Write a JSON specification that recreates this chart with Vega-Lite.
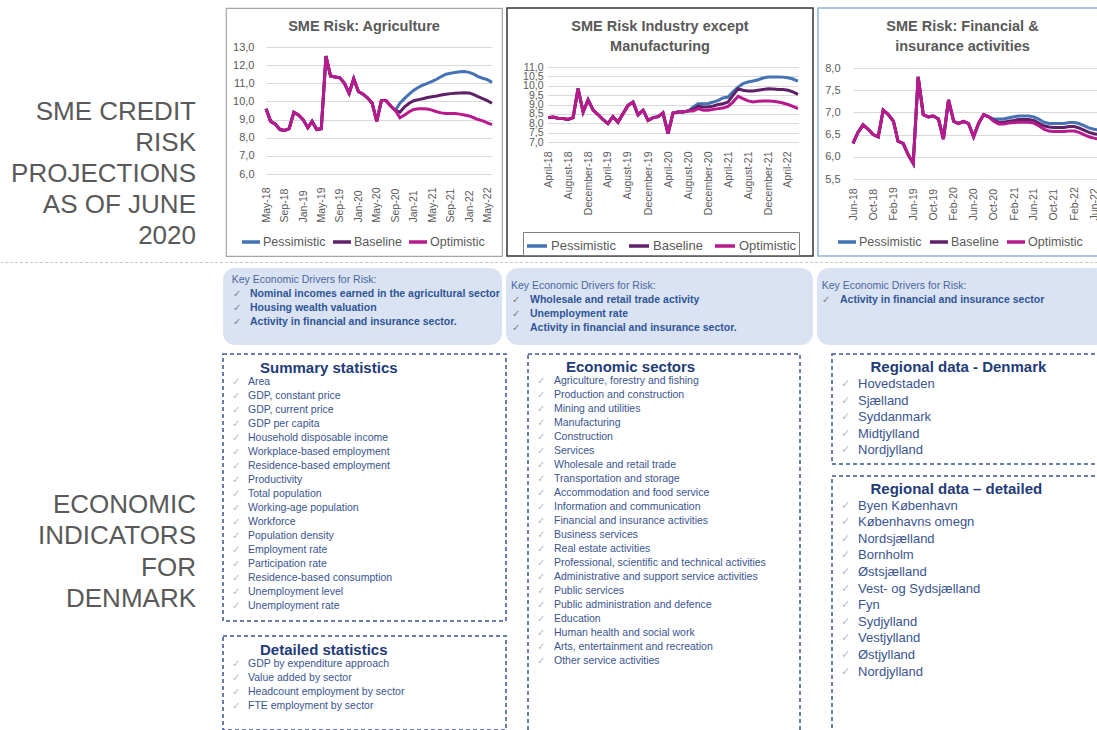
{
"$schema": "https://vega.github.io/schema/vega-lite/v6.json",
"padding": {"top": 7, "left": 0, "right": 0, "bottom": 0},
"background": "white",
"spacing": 0,
"vconcat": [
{
"spacing": 29,
"hconcat": [
{"width": 195, "height": 112,
 "data": {"values": [{"t": "SME CREDIT\nRISK\nPROJECTIONS\nAS OF JUNE\n2020"}]},
 "mark": {"type": "text", "align": "right", "baseline": "alphabetic", "fontSize": 26, "lineHeight": 31, "color": "#595959", "lineBreak": "\n"},
 "encoding": {"text": {"field": "t"}, "x": {"value": "width"}, "y": {"value": "height"}}},
{
"spacing": 3,
"resolve": {"scale": {"color": "independent"}, "legend": {"color": "independent"}},
"hconcat": [
{"width": 276, "height": 248,
 "view": {"stroke": "#a6a6a6", "strokeWidth": 1.2},
 "layer": [
 {"data": {"format": {"parse": {"d": "date:'%Y-%m'"}}, "values": [
{"d":"2018-05","s":"Pessimistic","v":9.6},{"d":"2018-05","s":"Baseline","v":9.6},{"d":"2018-05","s":"Optimistic","v":9.6},
{"d":"2018-06","s":"Pessimistic","v":8.9},{"d":"2018-06","s":"Baseline","v":8.9},{"d":"2018-06","s":"Optimistic","v":8.9},
{"d":"2018-07","s":"Pessimistic","v":8.75},{"d":"2018-07","s":"Baseline","v":8.75},{"d":"2018-07","s":"Optimistic","v":8.75},
{"d":"2018-08","s":"Pessimistic","v":8.45},{"d":"2018-08","s":"Baseline","v":8.45},{"d":"2018-08","s":"Optimistic","v":8.45},
{"d":"2018-09","s":"Pessimistic","v":8.4},{"d":"2018-09","s":"Baseline","v":8.4},{"d":"2018-09","s":"Optimistic","v":8.4},
{"d":"2018-10","s":"Pessimistic","v":8.5},{"d":"2018-10","s":"Baseline","v":8.5},{"d":"2018-10","s":"Optimistic","v":8.5},
{"d":"2018-11","s":"Pessimistic","v":9.4},{"d":"2018-11","s":"Baseline","v":9.4},{"d":"2018-11","s":"Optimistic","v":9.4},
{"d":"2018-12","s":"Pessimistic","v":9.25},{"d":"2018-12","s":"Baseline","v":9.25},{"d":"2018-12","s":"Optimistic","v":9.25},
{"d":"2019-01","s":"Pessimistic","v":9.0},{"d":"2019-01","s":"Baseline","v":9.0},{"d":"2019-01","s":"Optimistic","v":9.0},
{"d":"2019-02","s":"Pessimistic","v":8.55},{"d":"2019-02","s":"Baseline","v":8.55},{"d":"2019-02","s":"Optimistic","v":8.55},
{"d":"2019-03","s":"Pessimistic","v":8.9},{"d":"2019-03","s":"Baseline","v":8.9},{"d":"2019-03","s":"Optimistic","v":8.9},
{"d":"2019-04","s":"Pessimistic","v":8.45},{"d":"2019-04","s":"Baseline","v":8.45},{"d":"2019-04","s":"Optimistic","v":8.45},
{"d":"2019-05","s":"Pessimistic","v":8.5},{"d":"2019-05","s":"Baseline","v":8.5},{"d":"2019-05","s":"Optimistic","v":8.5},
{"d":"2019-06","s":"Pessimistic","v":12.5},{"d":"2019-06","s":"Baseline","v":12.5},{"d":"2019-06","s":"Optimistic","v":12.5},
{"d":"2019-07","s":"Pessimistic","v":11.4},{"d":"2019-07","s":"Baseline","v":11.4},{"d":"2019-07","s":"Optimistic","v":11.4},
{"d":"2019-08","s":"Pessimistic","v":11.35},{"d":"2019-08","s":"Baseline","v":11.35},{"d":"2019-08","s":"Optimistic","v":11.35},
{"d":"2019-09","s":"Pessimistic","v":11.3},{"d":"2019-09","s":"Baseline","v":11.3},{"d":"2019-09","s":"Optimistic","v":11.3},
{"d":"2019-10","s":"Pessimistic","v":11.0},{"d":"2019-10","s":"Baseline","v":11.0},{"d":"2019-10","s":"Optimistic","v":11.0},
{"d":"2019-11","s":"Pessimistic","v":10.45},{"d":"2019-11","s":"Baseline","v":10.45},{"d":"2019-11","s":"Optimistic","v":10.45},
{"d":"2019-12","s":"Pessimistic","v":11.25},{"d":"2019-12","s":"Baseline","v":11.25},{"d":"2019-12","s":"Optimistic","v":11.25},
{"d":"2020-01","s":"Pessimistic","v":10.55},{"d":"2020-01","s":"Baseline","v":10.55},{"d":"2020-01","s":"Optimistic","v":10.55},
{"d":"2020-02","s":"Pessimistic","v":10.4},{"d":"2020-02","s":"Baseline","v":10.4},{"d":"2020-02","s":"Optimistic","v":10.4},
{"d":"2020-03","s":"Pessimistic","v":10.2},{"d":"2020-03","s":"Baseline","v":10.2},{"d":"2020-03","s":"Optimistic","v":10.2},
{"d":"2020-04","s":"Pessimistic","v":9.9},{"d":"2020-04","s":"Baseline","v":9.9},{"d":"2020-04","s":"Optimistic","v":9.9},
{"d":"2020-05","s":"Pessimistic","v":8.9},{"d":"2020-05","s":"Baseline","v":8.9},{"d":"2020-05","s":"Optimistic","v":8.9},
{"d":"2020-06","s":"Pessimistic","v":10.05},{"d":"2020-06","s":"Baseline","v":10.05},{"d":"2020-06","s":"Optimistic","v":10.05},
{"d":"2020-07","s":"Pessimistic","v":10.05},{"d":"2020-07","s":"Baseline","v":10.05},{"d":"2020-07","s":"Optimistic","v":10.05},
{"d":"2020-08","s":"Pessimistic","v":9.75},{"d":"2020-08","s":"Baseline","v":9.75},{"d":"2020-08","s":"Optimistic","v":9.75},
{"d":"2020-09","s":"Pessimistic","v":9.5},{"d":"2020-09","s":"Baseline","v":9.5},{"d":"2020-09","s":"Optimistic","v":9.5},
{"d":"2020-10","s":"Pessimistic","v":9.9},{"d":"2020-10","s":"Baseline","v":9.4},{"d":"2020-10","s":"Optimistic","v":9.1},
{"d":"2020-11","s":"Pessimistic","v":10.17},{"d":"2020-11","s":"Baseline","v":9.7},{"d":"2020-11","s":"Optimistic","v":9.25},
{"d":"2020-12","s":"Pessimistic","v":10.4},{"d":"2020-12","s":"Baseline","v":9.9},{"d":"2020-12","s":"Optimistic","v":9.43},
{"d":"2021-01","s":"Pessimistic","v":10.62},{"d":"2021-01","s":"Baseline","v":10.04},{"d":"2021-01","s":"Optimistic","v":9.56},
{"d":"2021-02","s":"Pessimistic","v":10.78},{"d":"2021-02","s":"Baseline","v":10.1},{"d":"2021-02","s":"Optimistic","v":9.6},
{"d":"2021-03","s":"Pessimistic","v":10.9},{"d":"2021-03","s":"Baseline","v":10.15},{"d":"2021-03","s":"Optimistic","v":9.6},
{"d":"2021-04","s":"Pessimistic","v":11.0},{"d":"2021-04","s":"Baseline","v":10.22},{"d":"2021-04","s":"Optimistic","v":9.58},
{"d":"2021-05","s":"Pessimistic","v":11.1},{"d":"2021-05","s":"Baseline","v":10.26},{"d":"2021-05","s":"Optimistic","v":9.52},
{"d":"2021-06","s":"Pessimistic","v":11.22},{"d":"2021-06","s":"Baseline","v":10.3},{"d":"2021-06","s":"Optimistic","v":9.43},
{"d":"2021-07","s":"Pessimistic","v":11.37},{"d":"2021-07","s":"Baseline","v":10.35},{"d":"2021-07","s":"Optimistic","v":9.37},
{"d":"2021-08","s":"Pessimistic","v":11.5},{"d":"2021-08","s":"Baseline","v":10.4},{"d":"2021-08","s":"Optimistic","v":9.33},
{"d":"2021-09","s":"Pessimistic","v":11.55},{"d":"2021-09","s":"Baseline","v":10.43},{"d":"2021-09","s":"Optimistic","v":9.33},
{"d":"2021-10","s":"Pessimistic","v":11.6},{"d":"2021-10","s":"Baseline","v":10.45},{"d":"2021-10","s":"Optimistic","v":9.33},
{"d":"2021-11","s":"Pessimistic","v":11.63},{"d":"2021-11","s":"Baseline","v":10.47},{"d":"2021-11","s":"Optimistic","v":9.3},
{"d":"2021-12","s":"Pessimistic","v":11.65},{"d":"2021-12","s":"Baseline","v":10.48},{"d":"2021-12","s":"Optimistic","v":9.25},
{"d":"2022-01","s":"Pessimistic","v":11.6},{"d":"2022-01","s":"Baseline","v":10.47},{"d":"2022-01","s":"Optimistic","v":9.2},
{"d":"2022-02","s":"Pessimistic","v":11.5},{"d":"2022-02","s":"Baseline","v":10.37},{"d":"2022-02","s":"Optimistic","v":9.1},
{"d":"2022-03","s":"Pessimistic","v":11.37},{"d":"2022-03","s":"Baseline","v":10.26},{"d":"2022-03","s":"Optimistic","v":9.0},
{"d":"2022-04","s":"Pessimistic","v":11.28},{"d":"2022-04","s":"Baseline","v":10.15},{"d":"2022-04","s":"Optimistic","v":8.93},
{"d":"2022-05","s":"Pessimistic","v":11.2},{"d":"2022-05","s":"Baseline","v":10.04},{"d":"2022-05","s":"Optimistic","v":8.82},
{"d":"2022-06","s":"Pessimistic","v":11.05},{"d":"2022-06","s":"Baseline","v":9.9},{"d":"2022-06","s":"Optimistic","v":8.72}
 ]},
 "mark": {"type": "line", "strokeWidth": 3},
 "encoding": {
  "x": {"field": "d", "type": "temporal",
        "scale": {"range": [40, 266], "nice": false},
        "axis": {"title": null, "values": [{"year":2018,"month":5},{"year":2018,"month":9},{"year":2019,"month":1},{"year":2019,"month":5},{"year":2019,"month":9},{"year":2020,"month":1},{"year":2020,"month":5},{"year":2020,"month":9},{"year":2021,"month":1},{"year":2021,"month":5},{"year":2021,"month":9},{"year":2022,"month":1},{"year":2022,"month":5}],
                 "format": "%b-%y", "labelAngle": 270, "labelAlign": "left", "labelBaseline": "middle", "labelPadding": 48, "offset": -82, "grid": false, "labelFontSize": 10.5}},
  "y": {"field": "v", "type": "quantitative",
        "scale": {"domain": [6, 13], "range": [166, 39], "nice": false, "zero": false},
        "axis": {"title": null, "values": [6,7,8,9,10,11,12,13], "format": ".1f", "offset": -32, "labelPadding": 4, "grid": true, "labelFontSize": 11}},
  "color": {"field": "s", "type": "nominal",
        "scale": {"domain": ["Pessimistic", "Baseline", "Optimistic"], "range": ["#4472b4", "#5e2166", "#b8198c"]},
        "legend": {"title": null, "orient": "none", "legendX": 14, "legendY": 223, "direction": "horizontal", "columnPadding": 0, "labelOffset": 1, "symbolSize": 324, "labelFontSize": 12.5}}
 }},
 {"data": {"values": [{"t": "SME Risk: Agriculture"}]},
  "mark": {"type": "text", "fontSize": 14.5, "fontWeight": "bold", "color": "#595959", "baseline": "middle", "lineBreak": "\n", "lineHeight": 20},
  "encoding": {"text": {"field": "t"}, "y": {"datum": 14.1, "type": "quantitative", "axis": {"title": null, "values": [6,7,8,9,10,11,12,13], "format": ".1f", "offset": -32, "labelPadding": 4, "grid": true, "labelFontSize": 11}}}}
 ]},
{"width": 306, "height": 248,
 "view": {"stroke": "#333333", "strokeWidth": 1.5},
 "layer": [
 {"data": {"format": {"parse": {"d": "date:'%Y-%m'"}}, "values": [
{"d":"2018-04","s":"Pessimistic","v":8.3},{"d":"2018-04","s":"Baseline","v":8.3},{"d":"2018-04","s":"Optimistic","v":8.3},
{"d":"2018-05","s":"Pessimistic","v":8.33},{"d":"2018-05","s":"Baseline","v":8.33},{"d":"2018-05","s":"Optimistic","v":8.33},
{"d":"2018-06","s":"Pessimistic","v":8.27},{"d":"2018-06","s":"Baseline","v":8.27},{"d":"2018-06","s":"Optimistic","v":8.27},
{"d":"2018-07","s":"Pessimistic","v":8.25},{"d":"2018-07","s":"Baseline","v":8.25},{"d":"2018-07","s":"Optimistic","v":8.25},
{"d":"2018-08","s":"Pessimistic","v":8.2},{"d":"2018-08","s":"Baseline","v":8.2},{"d":"2018-08","s":"Optimistic","v":8.2},
{"d":"2018-09","s":"Pessimistic","v":8.3},{"d":"2018-09","s":"Baseline","v":8.3},{"d":"2018-09","s":"Optimistic","v":8.3},
{"d":"2018-10","s":"Pessimistic","v":9.85},{"d":"2018-10","s":"Baseline","v":9.85},{"d":"2018-10","s":"Optimistic","v":9.85},
{"d":"2018-11","s":"Pessimistic","v":8.6},{"d":"2018-11","s":"Baseline","v":8.6},{"d":"2018-11","s":"Optimistic","v":8.6},
{"d":"2018-12","s":"Pessimistic","v":9.25},{"d":"2018-12","s":"Baseline","v":9.25},{"d":"2018-12","s":"Optimistic","v":9.25},
{"d":"2019-01","s":"Pessimistic","v":8.7},{"d":"2019-01","s":"Baseline","v":8.7},{"d":"2019-01","s":"Optimistic","v":8.7},
{"d":"2019-02","s":"Pessimistic","v":8.45},{"d":"2019-02","s":"Baseline","v":8.45},{"d":"2019-02","s":"Optimistic","v":8.45},
{"d":"2019-03","s":"Pessimistic","v":8.2},{"d":"2019-03","s":"Baseline","v":8.2},{"d":"2019-03","s":"Optimistic","v":8.2},
{"d":"2019-04","s":"Pessimistic","v":7.98},{"d":"2019-04","s":"Baseline","v":7.98},{"d":"2019-04","s":"Optimistic","v":7.98},
{"d":"2019-05","s":"Pessimistic","v":8.35},{"d":"2019-05","s":"Baseline","v":8.35},{"d":"2019-05","s":"Optimistic","v":8.35},
{"d":"2019-06","s":"Pessimistic","v":8.05},{"d":"2019-06","s":"Baseline","v":8.05},{"d":"2019-06","s":"Optimistic","v":8.05},
{"d":"2019-07","s":"Pessimistic","v":8.5},{"d":"2019-07","s":"Baseline","v":8.5},{"d":"2019-07","s":"Optimistic","v":8.5},
{"d":"2019-08","s":"Pessimistic","v":8.95},{"d":"2019-08","s":"Baseline","v":8.95},{"d":"2019-08","s":"Optimistic","v":8.95},
{"d":"2019-09","s":"Pessimistic","v":9.13},{"d":"2019-09","s":"Baseline","v":9.13},{"d":"2019-09","s":"Optimistic","v":9.13},
{"d":"2019-10","s":"Pessimistic","v":8.45},{"d":"2019-10","s":"Baseline","v":8.45},{"d":"2019-10","s":"Optimistic","v":8.45},
{"d":"2019-11","s":"Pessimistic","v":8.7},{"d":"2019-11","s":"Baseline","v":8.7},{"d":"2019-11","s":"Optimistic","v":8.7},
{"d":"2019-12","s":"Pessimistic","v":8.15},{"d":"2019-12","s":"Baseline","v":8.15},{"d":"2019-12","s":"Optimistic","v":8.15},
{"d":"2020-01","s":"Pessimistic","v":8.3},{"d":"2020-01","s":"Baseline","v":8.3},{"d":"2020-01","s":"Optimistic","v":8.3},
{"d":"2020-02","s":"Pessimistic","v":8.35},{"d":"2020-02","s":"Baseline","v":8.35},{"d":"2020-02","s":"Optimistic","v":8.35},
{"d":"2020-03","s":"Pessimistic","v":8.55},{"d":"2020-03","s":"Baseline","v":8.55},{"d":"2020-03","s":"Optimistic","v":8.55},
{"d":"2020-04","s":"Pessimistic","v":7.45},{"d":"2020-04","s":"Baseline","v":7.45},{"d":"2020-04","s":"Optimistic","v":7.45},
{"d":"2020-05","s":"Pessimistic","v":8.55},{"d":"2020-05","s":"Baseline","v":8.55},{"d":"2020-05","s":"Optimistic","v":8.55},
{"d":"2020-06","s":"Pessimistic","v":8.6},{"d":"2020-06","s":"Baseline","v":8.6},{"d":"2020-06","s":"Optimistic","v":8.6},
{"d":"2020-07","s":"Pessimistic","v":8.6},{"d":"2020-07","s":"Baseline","v":8.6},{"d":"2020-07","s":"Optimistic","v":8.6},
{"d":"2020-08","s":"Pessimistic","v":8.65},{"d":"2020-08","s":"Baseline","v":8.65},{"d":"2020-08","s":"Optimistic","v":8.65},
{"d":"2020-09","s":"Pessimistic","v":8.87},{"d":"2020-09","s":"Baseline","v":8.75},{"d":"2020-09","s":"Optimistic","v":8.65},
{"d":"2020-10","s":"Pessimistic","v":9.04},{"d":"2020-10","s":"Baseline","v":8.9},{"d":"2020-10","s":"Optimistic","v":8.78},
{"d":"2020-11","s":"Pessimistic","v":9.04},{"d":"2020-11","s":"Baseline","v":8.87},{"d":"2020-11","s":"Optimistic","v":8.7},
{"d":"2020-12","s":"Pessimistic","v":9.05},{"d":"2020-12","s":"Baseline","v":8.87},{"d":"2020-12","s":"Optimistic","v":8.7},
{"d":"2021-01","s":"Pessimistic","v":9.13},{"d":"2021-01","s":"Baseline","v":8.92},{"d":"2021-01","s":"Optimistic","v":8.74},
{"d":"2021-02","s":"Pessimistic","v":9.22},{"d":"2021-02","s":"Baseline","v":9.0},{"d":"2021-02","s":"Optimistic","v":8.78},
{"d":"2021-03","s":"Pessimistic","v":9.35},{"d":"2021-03","s":"Baseline","v":9.04},{"d":"2021-03","s":"Optimistic","v":8.81},
{"d":"2021-04","s":"Pessimistic","v":9.4},{"d":"2021-04","s":"Baseline","v":9.13},{"d":"2021-04","s":"Optimistic","v":8.9},
{"d":"2021-05","s":"Pessimistic","v":9.67},{"d":"2021-05","s":"Baseline","v":9.49},{"d":"2021-05","s":"Optimistic","v":9.13},
{"d":"2021-06","s":"Pessimistic","v":9.93},{"d":"2021-06","s":"Baseline","v":9.84},{"d":"2021-06","s":"Optimistic","v":9.44},
{"d":"2021-07","s":"Pessimistic","v":10.11},{"d":"2021-07","s":"Baseline","v":9.76},{"d":"2021-07","s":"Optimistic","v":9.31},
{"d":"2021-08","s":"Pessimistic","v":10.2},{"d":"2021-08","s":"Baseline","v":9.72},{"d":"2021-08","s":"Optimistic","v":9.19},
{"d":"2021-09","s":"Pessimistic","v":10.25},{"d":"2021-09","s":"Baseline","v":9.72},{"d":"2021-09","s":"Optimistic","v":9.13},
{"d":"2021-10","s":"Pessimistic","v":10.32},{"d":"2021-10","s":"Baseline","v":9.76},{"d":"2021-10","s":"Optimistic","v":9.17},
{"d":"2021-11","s":"Pessimistic","v":10.41},{"d":"2021-11","s":"Baseline","v":9.8},{"d":"2021-11","s":"Optimistic","v":9.19},
{"d":"2021-12","s":"Pessimistic","v":10.47},{"d":"2021-12","s":"Baseline","v":9.84},{"d":"2021-12","s":"Optimistic","v":9.19},
{"d":"2022-01","s":"Pessimistic","v":10.47},{"d":"2022-01","s":"Baseline","v":9.83},{"d":"2022-01","s":"Optimistic","v":9.17},
{"d":"2022-02","s":"Pessimistic","v":10.47},{"d":"2022-02","s":"Baseline","v":9.8},{"d":"2022-02","s":"Optimistic","v":9.13},
{"d":"2022-03","s":"Pessimistic","v":10.46},{"d":"2022-03","s":"Baseline","v":9.8},{"d":"2022-03","s":"Optimistic","v":9.08},
{"d":"2022-04","s":"Pessimistic","v":10.43},{"d":"2022-04","s":"Baseline","v":9.76},{"d":"2022-04","s":"Optimistic","v":9.0},
{"d":"2022-05","s":"Pessimistic","v":10.36},{"d":"2022-05","s":"Baseline","v":9.67},{"d":"2022-05","s":"Optimistic","v":8.9},
{"d":"2022-06","s":"Pessimistic","v":10.25},{"d":"2022-06","s":"Baseline","v":9.54},{"d":"2022-06","s":"Optimistic","v":8.78}
 ]},
 "mark": {"type": "line", "strokeWidth": 3},
 "encoding": {
  "x": {"field": "d", "type": "temporal",
        "scale": {"range": [41, 291], "nice": false},
        "axis": {"title": null, "values": [{"year":2018,"month":4},{"year":2018,"month":8},{"year":2018,"month":12},{"year":2019,"month":4},{"year":2019,"month":8},{"year":2019,"month":12},{"year":2020,"month":4},{"year":2020,"month":8},{"year":2020,"month":12},{"year":2021,"month":4},{"year":2021,"month":8},{"year":2021,"month":12},{"year":2022,"month":4}],
                 "format": "%B-%y", "labelAngle": 270, "labelAlign": "right", "labelBaseline": "middle", "labelPadding": 9, "offset": -114, "grid": false, "labelFontSize": 10.5}},
  "y": {"field": "v", "type": "quantitative",
        "scale": {"domain": [7, 11], "range": [134, 59], "nice": false, "zero": false},
        "axis": {"title": null, "values": [7,7.5,8,8.5,9,9.5,10,10.5,11], "format": ".1f", "offset": -40, "labelPadding": 4, "grid": true, "labelFontSize": 10.5}},
  "color": {"field": "s", "type": "nominal",
        "scale": {"domain": ["Pessimistic", "Baseline", "Optimistic"], "range": ["#4472b4", "#5e2166", "#b8198c"]},
        "legend": {"title": null, "orient": "none", "legendX": 16, "legendY": 224, "direction": "horizontal", "strokeColor": "#7f7f7f", "padding": 2, "columnPadding": 5, "labelOffset": 2, "symbolSize": 400}}
 }},
 {"data": {"values": [{"t": "SME Risk Industry except\nManufacturing"}]},
  "mark": {"type": "text", "fontSize": 14.5, "fontWeight": "bold", "color": "#595959", "baseline": "middle", "lineBreak": "\n", "lineHeight": 20},
  "encoding": {"text": {"field": "t"}, "y": {"datum": 13.133, "type": "quantitative", "axis": {"title": null, "values": [7,7.5,8,8.5,9,9.5,10,10.5,11], "format": ".1f", "offset": -40, "labelPadding": 4, "grid": true, "labelFontSize": 10.5}}}}
 ]},
{"width": 289, "height": 248,
 "view": {"stroke": "#8fb6de", "strokeWidth": 1.5},
 "layer": [
 {"data": {"format": {"parse": {"d": "date:'%Y-%m'"}}, "values": [
{"d":"2018-06","s":"Pessimistic","v":6.3},{"d":"2018-06","s":"Baseline","v":6.3},{"d":"2018-06","s":"Optimistic","v":6.3},
{"d":"2018-07","s":"Pessimistic","v":6.55},{"d":"2018-07","s":"Baseline","v":6.55},{"d":"2018-07","s":"Optimistic","v":6.55},
{"d":"2018-08","s":"Pessimistic","v":6.72},{"d":"2018-08","s":"Baseline","v":6.72},{"d":"2018-08","s":"Optimistic","v":6.72},
{"d":"2018-09","s":"Pessimistic","v":6.62},{"d":"2018-09","s":"Baseline","v":6.62},{"d":"2018-09","s":"Optimistic","v":6.62},
{"d":"2018-10","s":"Pessimistic","v":6.5},{"d":"2018-10","s":"Baseline","v":6.5},{"d":"2018-10","s":"Optimistic","v":6.5},
{"d":"2018-11","s":"Pessimistic","v":6.45},{"d":"2018-11","s":"Baseline","v":6.45},{"d":"2018-11","s":"Optimistic","v":6.45},
{"d":"2018-12","s":"Pessimistic","v":7.05},{"d":"2018-12","s":"Baseline","v":7.05},{"d":"2018-12","s":"Optimistic","v":7.05},
{"d":"2019-01","s":"Pessimistic","v":6.95},{"d":"2019-01","s":"Baseline","v":6.95},{"d":"2019-01","s":"Optimistic","v":6.95},
{"d":"2019-02","s":"Pessimistic","v":6.8},{"d":"2019-02","s":"Baseline","v":6.8},{"d":"2019-02","s":"Optimistic","v":6.8},
{"d":"2019-03","s":"Pessimistic","v":6.35},{"d":"2019-03","s":"Baseline","v":6.35},{"d":"2019-03","s":"Optimistic","v":6.35},
{"d":"2019-04","s":"Pessimistic","v":6.3},{"d":"2019-04","s":"Baseline","v":6.3},{"d":"2019-04","s":"Optimistic","v":6.3},
{"d":"2019-05","s":"Pessimistic","v":6.05},{"d":"2019-05","s":"Baseline","v":6.05},{"d":"2019-05","s":"Optimistic","v":6.05},
{"d":"2019-06","s":"Pessimistic","v":5.85},{"d":"2019-06","s":"Baseline","v":5.85},{"d":"2019-06","s":"Optimistic","v":5.85},
{"d":"2019-07","s":"Pessimistic","v":7.8},{"d":"2019-07","s":"Baseline","v":7.8},{"d":"2019-07","s":"Optimistic","v":7.8},
{"d":"2019-08","s":"Pessimistic","v":6.95},{"d":"2019-08","s":"Baseline","v":6.95},{"d":"2019-08","s":"Optimistic","v":6.95},
{"d":"2019-09","s":"Pessimistic","v":6.9},{"d":"2019-09","s":"Baseline","v":6.9},{"d":"2019-09","s":"Optimistic","v":6.9},
{"d":"2019-10","s":"Pessimistic","v":6.92},{"d":"2019-10","s":"Baseline","v":6.92},{"d":"2019-10","s":"Optimistic","v":6.92},
{"d":"2019-11","s":"Pessimistic","v":6.85},{"d":"2019-11","s":"Baseline","v":6.85},{"d":"2019-11","s":"Optimistic","v":6.85},
{"d":"2019-12","s":"Pessimistic","v":6.4},{"d":"2019-12","s":"Baseline","v":6.4},{"d":"2019-12","s":"Optimistic","v":6.4},
{"d":"2020-01","s":"Pessimistic","v":7.28},{"d":"2020-01","s":"Baseline","v":7.28},{"d":"2020-01","s":"Optimistic","v":7.28},
{"d":"2020-02","s":"Pessimistic","v":6.8},{"d":"2020-02","s":"Baseline","v":6.8},{"d":"2020-02","s":"Optimistic","v":6.8},
{"d":"2020-03","s":"Pessimistic","v":6.75},{"d":"2020-03","s":"Baseline","v":6.75},{"d":"2020-03","s":"Optimistic","v":6.75},
{"d":"2020-04","s":"Pessimistic","v":6.8},{"d":"2020-04","s":"Baseline","v":6.8},{"d":"2020-04","s":"Optimistic","v":6.8},
{"d":"2020-05","s":"Pessimistic","v":6.75},{"d":"2020-05","s":"Baseline","v":6.75},{"d":"2020-05","s":"Optimistic","v":6.75},
{"d":"2020-06","s":"Pessimistic","v":6.45},{"d":"2020-06","s":"Baseline","v":6.45},{"d":"2020-06","s":"Optimistic","v":6.45},
{"d":"2020-07","s":"Pessimistic","v":6.75},{"d":"2020-07","s":"Baseline","v":6.75},{"d":"2020-07","s":"Optimistic","v":6.75},
{"d":"2020-08","s":"Pessimistic","v":6.95},{"d":"2020-08","s":"Baseline","v":6.95},{"d":"2020-08","s":"Optimistic","v":6.95},
{"d":"2020-09","s":"Pessimistic","v":6.9},{"d":"2020-09","s":"Baseline","v":6.9},{"d":"2020-09","s":"Optimistic","v":6.9},
{"d":"2020-10","s":"Pessimistic","v":6.85},{"d":"2020-10","s":"Baseline","v":6.82},{"d":"2020-10","s":"Optimistic","v":6.8},
{"d":"2020-11","s":"Pessimistic","v":6.85},{"d":"2020-11","s":"Baseline","v":6.78},{"d":"2020-11","s":"Optimistic","v":6.74},
{"d":"2020-12","s":"Pessimistic","v":6.85},{"d":"2020-12","s":"Baseline","v":6.78},{"d":"2020-12","s":"Optimistic","v":6.74},
{"d":"2021-01","s":"Pessimistic","v":6.88},{"d":"2021-01","s":"Baseline","v":6.8},{"d":"2021-01","s":"Optimistic","v":6.76},
{"d":"2021-02","s":"Pessimistic","v":6.9},{"d":"2021-02","s":"Baseline","v":6.82},{"d":"2021-02","s":"Optimistic","v":6.77},
{"d":"2021-03","s":"Pessimistic","v":6.92},{"d":"2021-03","s":"Baseline","v":6.84},{"d":"2021-03","s":"Optimistic","v":6.78},
{"d":"2021-04","s":"Pessimistic","v":6.92},{"d":"2021-04","s":"Baseline","v":6.84},{"d":"2021-04","s":"Optimistic","v":6.78},
{"d":"2021-05","s":"Pessimistic","v":6.92},{"d":"2021-05","s":"Baseline","v":6.84},{"d":"2021-05","s":"Optimistic","v":6.78},
{"d":"2021-06","s":"Pessimistic","v":6.9},{"d":"2021-06","s":"Baseline","v":6.82},{"d":"2021-06","s":"Optimistic","v":6.76},
{"d":"2021-07","s":"Pessimistic","v":6.85},{"d":"2021-07","s":"Baseline","v":6.76},{"d":"2021-07","s":"Optimistic","v":6.7},
{"d":"2021-08","s":"Pessimistic","v":6.78},{"d":"2021-08","s":"Baseline","v":6.7},{"d":"2021-08","s":"Optimistic","v":6.62},
{"d":"2021-09","s":"Pessimistic","v":6.75},{"d":"2021-09","s":"Baseline","v":6.67},{"d":"2021-09","s":"Optimistic","v":6.58},
{"d":"2021-10","s":"Pessimistic","v":6.75},{"d":"2021-10","s":"Baseline","v":6.66},{"d":"2021-10","s":"Optimistic","v":6.57},
{"d":"2021-11","s":"Pessimistic","v":6.75},{"d":"2021-11","s":"Baseline","v":6.66},{"d":"2021-11","s":"Optimistic","v":6.57},
{"d":"2021-12","s":"Pessimistic","v":6.75},{"d":"2021-12","s":"Baseline","v":6.66},{"d":"2021-12","s":"Optimistic","v":6.57},
{"d":"2022-01","s":"Pessimistic","v":6.77},{"d":"2022-01","s":"Baseline","v":6.68},{"d":"2022-01","s":"Optimistic","v":6.58},
{"d":"2022-02","s":"Pessimistic","v":6.77},{"d":"2022-02","s":"Baseline","v":6.68},{"d":"2022-02","s":"Optimistic","v":6.58},
{"d":"2022-03","s":"Pessimistic","v":6.75},{"d":"2022-03","s":"Baseline","v":6.65},{"d":"2022-03","s":"Optimistic","v":6.55},
{"d":"2022-04","s":"Pessimistic","v":6.7},{"d":"2022-04","s":"Baseline","v":6.6},{"d":"2022-04","s":"Optimistic","v":6.5},
{"d":"2022-05","s":"Pessimistic","v":6.65},{"d":"2022-05","s":"Baseline","v":6.55},{"d":"2022-05","s":"Optimistic","v":6.45},
{"d":"2022-06","s":"Pessimistic","v":6.62},{"d":"2022-06","s":"Baseline","v":6.52},{"d":"2022-06","s":"Optimistic","v":6.42},
{"d":"2022-07","s":"Pessimistic","v":6.6},{"d":"2022-07","s":"Baseline","v":6.5},{"d":"2022-07","s":"Optimistic","v":6.4}
 ]},
 "mark": {"type": "line", "strokeWidth": 3},
 "encoding": {
  "x": {"field": "d", "type": "temporal",
        "scale": {"range": [35, 281], "nice": false},
        "axis": {"title": null, "values": [{"year":2018,"month":6},{"year":2018,"month":10},{"year":2019,"month":2},{"year":2019,"month":6},{"year":2019,"month":10},{"year":2020,"month":2},{"year":2020,"month":6},{"year":2020,"month":10},{"year":2021,"month":2},{"year":2021,"month":6},{"year":2021,"month":10},{"year":2022,"month":2},{"year":2022,"month":6}],
                 "format": "%b-%y", "labelAngle": 270, "labelAlign": "left", "labelBaseline": "middle", "labelPadding": 41, "offset": -77, "grid": false, "labelFontSize": 10.5}},
  "y": {"field": "v", "type": "quantitative",
        "scale": {"domain": [5.5, 8], "range": [171, 60], "nice": false, "zero": false},
        "axis": {"title": null, "values": [5.5,6,6.5,7,7.5,8], "format": ".1f", "offset": -26, "labelPadding": 4, "grid": true, "labelFontSize": 11}},
  "color": {"field": "s", "type": "nominal",
        "scale": {"domain": ["Pessimistic", "Baseline", "Optimistic"], "range": ["#4472b4", "#5e2166", "#b8198c"]},
        "legend": {"title": null, "orient": "none", "legendX": 18, "legendY": 223, "direction": "horizontal", "columnPadding": 1, "labelOffset": 1, "symbolSize": 324, "labelFontSize": 12.5}}
 }},
 {"data": {"values": [{"t": "SME Risk: Financial &\ninsurance activities"}]},
  "mark": {"type": "text", "fontSize": 14.5, "fontWeight": "bold", "color": "#595959", "baseline": "middle", "lineBreak": "\n", "lineHeight": 20},
  "encoding": {"text": {"field": "t"}, "y": {"datum": 8.923, "type": "quantitative", "axis": {"title": null, "values": [5.5,6,6.5,7,7.5,8], "format": ".1f", "offset": -26, "labelPadding": 4, "grid": true, "labelFontSize": 11}}}}
 ]}
]
}
]
},
{"width": 1097, "height": 11,
 "data": {"values": [{}]},
 "mark": {"type": "rule", "color": "#c9c9c9", "strokeDash": [3, 2], "strokeWidth": 1},
 "encoding": {"y": {"datum": 0.5, "type": "quantitative", "scale": {"domain": [0, 1]}, "axis": null}}},
{
"spacing": 26,
"hconcat": [
{"width": 195, "height": 245,
 "data": {"values": [{"t": "ECONOMIC\nINDICATORS\nFOR\nDENMARK"}]},
 "mark": {"type": "text", "align": "right", "baseline": "alphabetic", "fontSize": 26, "lineHeight": 31.3, "color": "#595959", "lineBreak": "\n"},
 "encoding": {"text": {"field": "t"}, "x": {"value": "width"}, "y": {"value": "height"}}},
{
"spacing": 8,
"vconcat": [
{
"spacing": 4,
"hconcat": [
{"width": 279, "height": 77,
 "view": {"fill": "#dae3f3", "stroke": null, "cornerRadius": 12},
 "data": {"values": [
  {"i": 0, "role": "h", "t": "Key Economic Drivers for Risk:"},
  {"i": 1, "role": "i", "t": "Nominal incomes earned in the agricultural sector"},
  {"i": 2, "role": "i", "t": "Housing wealth valuation"},
  {"i": 3, "role": "i", "t": "Activity in financial and insurance sector."}]},
 "encoding": {
  "y": {"field": "i", "type": "quantitative", "scale": {"domain": [-0.863, 4.677], "reverse": true, "nice": false, "zero": false}, "axis": null},
  "x": {"field": "role", "type": "nominal", "scale": {"type": "point", "domain": ["h", "i"], "range": [8.7, 27], "padding": 0}, "axis": null},
  "text": {"field": "t"}},
 "layer": [
  {"transform": [{"filter": "datum.role == 'h'"}], "mark": {"type": "text", "align": "left", "baseline": "middle", "fontSize": 10.5, "color": "#4a66a0"}},
  {"transform": [{"filter": "datum.role == 'i'"}], "mark": {"type": "text", "align": "left", "baseline": "middle", "fontSize": 10.5, "fontWeight": "bold", "color": "#2f5597"}},
  {"transform": [{"filter": "datum.role == 'i'"}], "mark": {"type": "text", "align": "left", "baseline": "middle", "fontSize": 9.5, "color": "#7f7f7f", "dx": -17}, "encoding": {"text": {"value": "✓"}}}
 ]},
{"width": 307, "height": 77,
 "view": {"fill": "#dae3f3", "stroke": null, "cornerRadius": 12},
 "data": {"values": [
  {"i": 0, "role": "h", "t": "Key Economic Drivers for Risk:"},
  {"i": 1, "role": "i", "t": "Wholesale and retail trade activity"},
  {"i": 2, "role": "i", "t": "Unemployment rate"},
  {"i": 3, "role": "i", "t": "Activity in financial and insurance sector."}]},
 "encoding": {
  "y": {"field": "i", "type": "quantitative", "scale": {"domain": [-1.246, 4.177], "reverse": true, "nice": false, "zero": false}, "axis": null},
  "x": {"field": "role", "type": "nominal", "scale": {"type": "point", "domain": ["h", "i"], "range": [5, 24], "padding": 0}, "axis": null},
  "text": {"field": "t"}},
 "layer": [
  {"transform": [{"filter": "datum.role == 'h'"}], "mark": {"type": "text", "align": "left", "baseline": "middle", "fontSize": 10.5, "color": "#4a66a0"}},
  {"transform": [{"filter": "datum.role == 'i'"}], "mark": {"type": "text", "align": "left", "baseline": "middle", "fontSize": 10.5, "fontWeight": "bold", "color": "#2f5597"}},
  {"transform": [{"filter": "datum.role == 'i'"}], "mark": {"type": "text", "align": "left", "baseline": "middle", "fontSize": 9.5, "color": "#7f7f7f", "dx": -18}, "encoding": {"text": {"value": "✓"}}}
 ]},
{"width": 290, "height": 77,
 "view": {"fill": "#dae3f3", "stroke": null, "cornerRadius": 12},
 "data": {"values": [
  {"i": 0, "role": "h", "t": "Key Economic Drivers for Risk:"},
  {"i": 1, "role": "i", "t": "Activity in financial and insurance sector"}]},
 "encoding": {
  "y": {"field": "i", "type": "quantitative", "scale": {"domain": [-1.246, 4.177], "reverse": true, "nice": false, "zero": false}, "axis": null},
  "x": {"field": "role", "type": "nominal", "scale": {"type": "point", "domain": ["h", "i"], "range": [4.7, 23], "padding": 0}, "axis": null},
  "text": {"field": "t"}},
 "layer": [
  {"transform": [{"filter": "datum.role == 'h'"}], "mark": {"type": "text", "align": "left", "baseline": "middle", "fontSize": 10.5, "color": "#4a66a0"}},
  {"transform": [{"filter": "datum.role == 'i'"}], "mark": {"type": "text", "align": "left", "baseline": "middle", "fontSize": 10.5, "fontWeight": "bold", "color": "#2f5597"}},
  {"transform": [{"filter": "datum.role == 'i'"}], "mark": {"type": "text", "align": "left", "baseline": "middle", "fontSize": 9.5, "color": "#7f7f7f", "dx": -18}, "encoding": {"text": {"value": "✓"}}}
 ]}
]
},
{
"spacing": 20,
"hconcat": [
{
"spacing": 13,
"vconcat": [
{"width": 283, "height": 267,
 "view": {"stroke": "#3b5591", "strokeWidth": 1.5, "strokeDash": [4, 3]},
 "data": {"values": [
  {"i": 0, "role": "h", "t": "Summary statistics"},
  {"i": 1, "role": "i", "t": "Area"},
  {"i": 2, "role": "i", "t": "GDP, constant price"},
  {"i": 3, "role": "i", "t": "GDP, current price"},
  {"i": 4, "role": "i", "t": "GDP per capita"},
  {"i": 5, "role": "i", "t": "Household disposable income"},
  {"i": 6, "role": "i", "t": "Workplace-based employment"},
  {"i": 7, "role": "i", "t": "Residence-based employment"},
  {"i": 8, "role": "i", "t": "Productivity"},
  {"i": 9, "role": "i", "t": "Total population"},
  {"i": 10, "role": "i", "t": "Working-age population"},
  {"i": 11, "role": "i", "t": "Workforce"},
  {"i": 12, "role": "i", "t": "Population density"},
  {"i": 13, "role": "i", "t": "Employment rate"},
  {"i": 14, "role": "i", "t": "Participation rate"},
  {"i": 15, "role": "i", "t": "Residence-based consumption"},
  {"i": 16, "role": "i", "t": "Unemployment level"},
  {"i": 17, "role": "i", "t": "Unemployment rate"}]},
 "encoding": {
  "y": {"field": "i", "type": "quantitative", "scale": {"domain": [-1, 18.07], "reverse": true, "nice": false, "zero": false}, "axis": null},
  "x": {"field": "role", "type": "nominal", "scale": {"type": "point", "domain": ["i", "h"], "range": [25, 37], "padding": 0}, "axis": null},
  "text": {"field": "t"}},
 "layer": [
  {"transform": [{"filter": "datum.role == 'h'"}], "mark": {"type": "text", "align": "left", "baseline": "middle", "fontSize": 15, "fontWeight": "bold", "color": "#1f3b78"}},
  {"transform": [{"filter": "datum.role == 'i'"}], "mark": {"type": "text", "align": "left", "baseline": "middle", "fontSize": 10.5, "color": "#3a5490"}},
  {"transform": [{"filter": "datum.role == 'i'"}], "mark": {"type": "text", "align": "left", "baseline": "middle", "fontSize": 9.5, "color": "#b3bccd", "dx": -16}, "encoding": {"text": {"value": "✓"}}}
 ]},
{"width": 283, "height": 94,
 "view": {"stroke": "#3b5591", "strokeWidth": 1.5, "strokeDash": [4, 3]},
 "data": {"values": [
  {"i": 0, "role": "h", "t": "Detailed statistics"},
  {"i": 1, "role": "i", "t": "GDP by expenditure approach"},
  {"i": 2, "role": "i", "t": "Value added by sector"},
  {"i": 3, "role": "i", "t": "Headcount employment by sector"},
  {"i": 4, "role": "i", "t": "FTE employment by sector"}]},
 "encoding": {
  "y": {"field": "i", "type": "quantitative", "scale": {"domain": [-1, 5.714], "reverse": true, "nice": false, "zero": false}, "axis": null},
  "x": {"field": "role", "type": "nominal", "scale": {"type": "point", "domain": ["i", "h"], "range": [25, 37], "padding": 0}, "axis": null},
  "text": {"field": "t"}},
 "layer": [
  {"transform": [{"filter": "datum.role == 'h'"}], "mark": {"type": "text", "align": "left", "baseline": "middle", "fontSize": 15, "fontWeight": "bold", "color": "#1f3b78"}},
  {"transform": [{"filter": "datum.role == 'i'"}], "mark": {"type": "text", "align": "left", "baseline": "middle", "fontSize": 10.5, "color": "#3a5490"}},
  {"transform": [{"filter": "datum.role == 'i'"}], "mark": {"type": "text", "align": "left", "baseline": "middle", "fontSize": 9.5, "color": "#b3bccd", "dx": -16}, "encoding": {"text": {"value": "✓"}}}
 ]}
]
},
{
"spacing": 30,
"hconcat": [
{"width": 272, "height": 385,
 "view": {"stroke": "#3b5591", "strokeWidth": 1.5, "strokeDash": [4, 3]},
 "data": {"values": [
  {"i": 0, "role": "h", "t": "Economic sectors"},
  {"i": 1, "role": "i", "t": "Agriculture, forestry and fishing"},
  {"i": 2, "role": "i", "t": "Production and construction"},
  {"i": 3, "role": "i", "t": "Mining and utilities"},
  {"i": 4, "role": "i", "t": "Manufacturing"},
  {"i": 5, "role": "i", "t": "Construction"},
  {"i": 6, "role": "i", "t": "Services"},
  {"i": 7, "role": "i", "t": "Wholesale and retail trade"},
  {"i": 8, "role": "i", "t": "Transportation and storage"},
  {"i": 9, "role": "i", "t": "Accommodation and food service"},
  {"i": 10, "role": "i", "t": "Information and communication"},
  {"i": 11, "role": "i", "t": "Financial and insurance activities"},
  {"i": 12, "role": "i", "t": "Business services"},
  {"i": 13, "role": "i", "t": "Real estate activities"},
  {"i": 14, "role": "i", "t": "Professional, scientific and technical activities"},
  {"i": 15, "role": "i", "t": "Administrative and support service activities"},
  {"i": 16, "role": "i", "t": "Public services"},
  {"i": 17, "role": "i", "t": "Public administration and defence"},
  {"i": 18, "role": "i", "t": "Education"},
  {"i": 19, "role": "i", "t": "Human health and social work"},
  {"i": 20, "role": "i", "t": "Arts, entertainment and recreation"},
  {"i": 21, "role": "i", "t": "Other service activities"}]},
 "encoding": {
  "y": {"field": "i", "type": "quantitative", "scale": {"domain": [-0.93, 26.57], "reverse": true, "nice": false, "zero": false}, "axis": null},
  "x": {"field": "role", "type": "nominal", "scale": {"type": "point", "domain": ["i", "h"], "range": [26, 38], "padding": 0}, "axis": null},
  "text": {"field": "t"}},
 "layer": [
  {"transform": [{"filter": "datum.role == 'h'"}], "mark": {"type": "text", "align": "left", "baseline": "middle", "fontSize": 15, "fontWeight": "bold", "color": "#1f3b78"}},
  {"transform": [{"filter": "datum.role == 'i'"}], "mark": {"type": "text", "align": "left", "baseline": "middle", "fontSize": 10.5, "color": "#3a5490"}},
  {"transform": [{"filter": "datum.role == 'i'"}], "mark": {"type": "text", "align": "left", "baseline": "middle", "fontSize": 9.5, "color": "#b3bccd", "dx": -17}, "encoding": {"text": {"value": "✓"}}}
 ]},
{
"spacing": 10,
"vconcat": [
{"width": 290, "height": 110,
 "view": {"stroke": "#3b5591", "strokeWidth": 1.5, "strokeDash": [4, 3]},
 "data": {"values": [
  {"i": 0, "role": "h", "t": "Regional data - Denmark"},
  {"i": 1, "role": "i", "t": "Hovedstaden"},
  {"i": 2, "role": "i", "t": "Sjælland"},
  {"i": 3, "role": "i", "t": "Syddanmark"},
  {"i": 4, "role": "i", "t": "Midtjylland"},
  {"i": 5, "role": "i", "t": "Nordjylland"}]},
 "encoding": {
  "y": {"field": "i", "type": "quantitative", "scale": {"domain": [-0.81, 5.82], "reverse": true, "nice": false, "zero": false}, "axis": null},
  "x": {"field": "role", "type": "nominal", "scale": {"type": "point", "domain": ["i", "h"], "range": [26, 38.5], "padding": 0}, "axis": null},
  "text": {"field": "t"}},
 "layer": [
  {"transform": [{"filter": "datum.role == 'h'"}], "mark": {"type": "text", "align": "left", "baseline": "middle", "fontSize": 15, "fontWeight": "bold", "color": "#1f3b78"}},
  {"transform": [{"filter": "datum.role == 'i'"}], "mark": {"type": "text", "align": "left", "baseline": "middle", "fontSize": 13, "color": "#3a5490"}},
  {"transform": [{"filter": "datum.role == 'i'"}], "mark": {"type": "text", "align": "left", "baseline": "middle", "fontSize": 11, "color": "#b3bccd", "dx": -17}, "encoding": {"text": {"value": "✓"}}}
 ]},
{"width": 290, "height": 270,
 "view": {"stroke": "#3b5591", "strokeWidth": 1.5, "strokeDash": [4, 3]},
 "data": {"values": [
  {"i": 0, "role": "h", "t": "Regional data – detailed"},
  {"i": 1, "role": "i", "t": "Byen København"},
  {"i": 2, "role": "i", "t": "Københavns omegn"},
  {"i": 3, "role": "i", "t": "Nordsjælland"},
  {"i": 4, "role": "i", "t": "Bornholm"},
  {"i": 5, "role": "i", "t": "Østsjælland"},
  {"i": 6, "role": "i", "t": "Vest- og Sydsjælland"},
  {"i": 7, "role": "i", "t": "Fyn"},
  {"i": 8, "role": "i", "t": "Sydjylland"},
  {"i": 9, "role": "i", "t": "Vestjylland"},
  {"i": 10, "role": "i", "t": "Østjylland"},
  {"i": 11, "role": "i", "t": "Nordjylland"}]},
 "encoding": {
  "y": {"field": "i", "type": "quantitative", "scale": {"domain": [-0.78, 15.48], "reverse": true, "nice": false, "zero": false}, "axis": null},
  "x": {"field": "role", "type": "nominal", "scale": {"type": "point", "domain": ["i", "h"], "range": [26, 38.5], "padding": 0}, "axis": null},
  "text": {"field": "t"}},
 "layer": [
  {"transform": [{"filter": "datum.role == 'h'"}], "mark": {"type": "text", "align": "left", "baseline": "middle", "fontSize": 15, "fontWeight": "bold", "color": "#1f3b78"}},
  {"transform": [{"filter": "datum.role == 'i'"}], "mark": {"type": "text", "align": "left", "baseline": "middle", "fontSize": 13, "color": "#3a5490"}},
  {"transform": [{"filter": "datum.role == 'i'"}], "mark": {"type": "text", "align": "left", "baseline": "middle", "fontSize": 11, "color": "#b3bccd", "dx": -17}, "encoding": {"text": {"value": "✓"}}}
 ]}
]
}
]
}
]
}
]
}
]
}
],
"config": {
 "font": "Liberation Sans",
 "view": {"stroke": null},
 "axis": {"labelColor": "#595959", "labelFont": "Liberation Sans", "domain": false, "ticks": false, "gridColor": "#d9d9d9", "gridWidth": 1, "labelOverlap": false, "labelFlush": false},
 "legend": {"labelColor": "#595959", "labelFont": "Liberation Sans", "labelFontSize": 13, "symbolType": "stroke", "symbolStrokeWidth": 3.5, "symbolSize": 400, "labelOffset": 2, "columnPadding": 3},
 "locale": {"number": {"decimal": ",", "thousands": ".", "grouping": [3], "currency": ["", " kr."]}}
}
}
